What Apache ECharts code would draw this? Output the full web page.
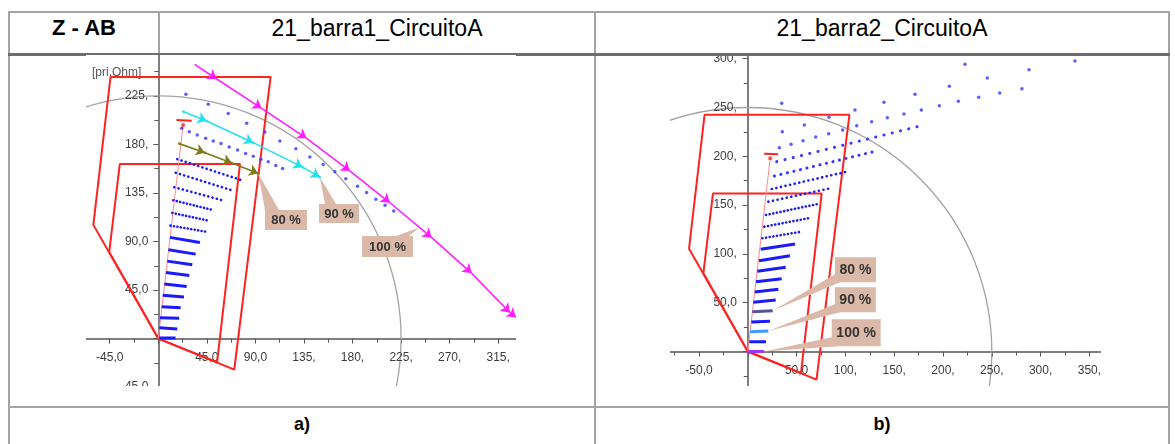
<!DOCTYPE html>
<html>
<head>
<meta charset="utf-8">
<script src="https://cdn.jsdelivr.net/npm/echarts@6/dist/echarts.min.js"></script>
<style>
  html, body { margin: 0; padding: 0; background: #fff; width: 1175px; height: 444px; overflow: hidden;
    font-family: "Liberation Sans", Arial, sans-serif; }
  .ln { position: absolute; background: #a3a3a3; }
  .txt { position: absolute; text-align: center; color: #000; white-space: nowrap; }
  .clip { position: absolute; overflow: hidden; background: #fff; }
  .chart { position: absolute; left: 0; top: 0; width: 1175px; height: 444px; }
</style>
</head>
<body>
<!-- table frame -->
<div class="ln" style="left:8px;top:11px;width:1162px;height:2px"></div>
<div class="ln" style="left:8px;top:11px;width:2px;height:433px"></div>
<div class="ln" style="left:158px;top:11px;width:2px;height:43px"></div>
<div class="ln" style="left:594px;top:11px;width:2px;height:433px"></div>
<div class="ln" style="left:1168px;top:11px;width:2px;height:433px"></div>
<div class="ln" style="left:8px;top:53px;width:1162px;height:3px;background:#6d6d6d"></div>
<div class="ln" style="left:8px;top:406px;width:1162px;height:2px"></div>

<div class="txt" style="left:10px;width:148px;top:15px;line-height:26px;font-size:22px;font-weight:bold">Z - AB</div>
<div class="txt" style="left:160px;width:434px;top:15px;line-height:26px;font-size:23px">21_barra1_CircuitoA</div>
<div class="txt" style="left:596px;width:572px;top:15px;line-height:26px;font-size:23px">21_barra2_CircuitoA</div>
<div class="txt" style="left:10px;width:584px;top:412px;line-height:24px;font-size:18px;font-weight:bold">a)</div>
<div class="txt" style="left:596px;width:572px;top:412px;line-height:24px;font-size:18px;font-weight:bold">b)</div>

<div class="clip" style="left:86px;top:55px;width:430px;height:331px">
  <div id="plotA" class="chart" style="left:-86px;top:-55px"></div>
</div>
<div class="clip" style="left:670px;top:56px;width:431px;height:330px">
  <div id="plotB" class="chart" style="left:-670px;top:-56px"></div>
</div>

<script>
// ---- relay characteristic (primary ohms, R-X plane) ----
const zone2 = [[0, 0], [-60.2, 105.4], [-44.3, 242.5], [104.1, 242.5], [70.4, -28.8], [0, 0]];
const zone1 = [[0, 0], [-45.5, 80.2], [-35.7, 161.8], [75.7, 161.8], [54.5, -21.9], [0, 0]];
const lineAngle = [[0, 0], [23, 198]];
const lineEndBar = [[16.8, 202.5], [31, 202]];
const lineEndDot = [[23, 198]];

// ---- panel a: 21_barra1_CircuitoA ----
const stepA = 45;
const xTicksA = [-45, 45, 90, 135, 180, 225, 270, 315];
const yTicksA = [-45, 45, 90, 135, 180, 225];
const reachA = 225;
const solidRowsA = [
  [[1, 0.5], [16, 0.5]],
  [[0.9, 10], [17.6, 8.8]],
  [[1.6, 19.3], [19.4, 18.8]],
  [[3.1, 29.6], [20.7, 28.7]],
  [[4.1, 40.2], [23.8, 38.6]],
  [[5.6, 50.7], [26.3, 48.2]],
  [[7.1, 61.2], [28.7, 58.4]],
  [[8.3, 71.8], [31.5, 68.4]],
  [[9.3, 82.3], [34.6, 78.3]],
  [[10.8, 93.8], [38.6, 89.1]]
];
const denseRowsA = [
  [[11.3, 104.7], [45.1, 98.9]],
  [[13, 116.5], [46.3, 109.3]],
  [[13.9, 128.2], [51.6, 118.9]]
];
const dotRowsA = [
  [[14.8, 140.3], [59.3, 128.2]],
  [[16.1, 153.7], [68, 137.5]],
  [[17.6, 166.3], [78.1, 146.5]]
];
const sparseDotsA = [
  [21.7, 194.9], [28.7, 191.8], [36.1, 188.7], [43.9, 185.6], [50.9, 183.1], [58.1, 180.7], [65.7, 177.5],
  [73.5, 174.7], [80.9, 171.6], [88, 169.1], [95.1, 166.3], [101.9, 163.9], [108.9, 160.5], [115.2, 157.7],
  [25.6, 226.5], [46.3, 217.2], [64.8, 208.6], [81.9, 199.5], [98.8, 191.4], [112.7, 183.1], [127.5, 176],
  [140.5, 168.2], [152.8, 161.4], [163.6, 154.6], [173.8, 148.1], [184.6, 141.2], [193, 135.3], [201.6, 129.1],
  [210.2, 123.5], [218.2, 118.3]
];
const locus80A = [[19.4, 180.7], [43.2, 172.3], [68.2, 162.8], [92.6, 153]];
const locus90A = [[23.1, 210.4], [44.8, 201.7], [88, 181.6], [133.7, 158.9], [149.7, 149.6]];
const locus100A = [[33.7, 254.2], [54.1, 240.6], [95.8, 213.4], [137.5, 185.6], [177.7, 155.3], [214.7, 125.9],
  [253.4, 93.5], [290.5, 60.5], [326, 24], [331.6, 19.7]];
const calloutsA = [
  { text: '80 %', at: locus80A[locus80A.length - 1] },
  { text: '90 %', at: locus90A[locus90A.length - 1] },
  { text: '100 %', at: [242, 103] }
];

// ---- panel b: 21_barra2_CircuitoA ----
const stepB = 50;
const xTicksB = [-50, 50, 100, 150, 200, 250, 300, 350];
const yTicksB = [-50, 50, 100, 150, 200, 250, 300];
const reachB = 250;
const row100B = [[0.5, 0], [16.6, 0]];
const row90B = [[2.3, 20.3], [21, 21]];
const row80B = [[4.6, 40.8], [25.5, 41.8]];
const solidRowsB = [
  [[1.5, 10], [18.6, 10]],
  [[3.6, 30.2], [22.7, 30.9]],
  [[5.6, 50.4], [28.6, 52.8]],
  [[7.1, 61], [31.3, 63.7]],
  [[8.4, 71.5], [34.7, 74.6]],
  [[9.7, 82.2], [38.8, 86.3]],
  [[11.5, 93], [43.2, 98.2]],
  [[13.2, 104.7], [48.4, 110.1]]
];
const denseRowsB = [
  [[14.9, 116], [54.5, 122.7]],
  [[16.9, 127.9], [62, 136.5]],
  [[18.6, 139.9], [71.6, 151.1]]
];
const dotRowsB = [
  [[21, 153.5], [84.2, 167.2]],
  [[24.5, 166.5], [101.3, 184.2]]
];
const wideRowB4 = [[27.2, 179.8], [128.6, 204.7]];
const wideRowB3 = [[29.6, 194.5], [175.1, 230.7]];
const sparseDotsB = [
  [32.3, 208.8], [44.3, 212.3], [56.6, 216], [69.6, 219.8], [82.9, 223.2], [97.2, 226.9], [111.6, 231.4],
  [126.9, 235.5], [142.9, 239.5], [160, 243.3], [177.8, 247.4], [196.2, 251.8], [215.7, 256.4], [236.6, 260.5],
  [258.1, 264.8], [280.9, 269.3],
  [35.3, 225.2], [57.9, 232.1], [83.2, 240], [109.8, 247.4], [139.5, 255.3], [171.3, 263.5], [206.5, 271.7],
  [245.4, 280.2], [288.1, 288.7], [335.2, 297.6],
  [34.7, 254.3], [222.5, 294.3]
];
const calloutsB = [
  { text: '80 %', at: row80B[1] },
  { text: '90 %', at: row90B[1] },
  { text: '100 %', at: row100B[1] }
];

// ---- drawing helpers ----
const FONT = '"Liberation Sans", Arial, sans-serif';
const BLUE = '#1a1aff';
const DOT_BLUE = '#3636ff';
const RED = '#ff2222';
const TAN = '#dbb9a8';

function tickText(v) {
  if (Math.abs(v) < 1e-9) return '';
  const s = Math.abs(v).toFixed(1).replace('.', ',');
  return (v < 0 ? '-' : '') + s.slice(0, 4);
}

function axis(min, max, step) {
  return {
    type: 'value', min: min, max: max, interval: step,
    axisLine: { show: true, onZero: true, lineStyle: { color: '#555', width: 1.5 } },
    axisTick: { show: true, length: 5, lineStyle: { color: '#555', width: 1 } },
    minorTick: { show: true, splitNumber: 2, length: 4, lineStyle: { color: '#555', width: 1 } },
    splitLine: { show: false }, minorSplitLine: { show: false },
    axisLabel: { show: false }
  };
}

// tick labels sit beside the axes where they cross at the origin
function tickLabels(values, isX, margin) {
  return {
    type: 'custom', coordinateSystem: 'cartesian2d',
    data: values.map(function (v) { return isX ? [v, 0] : [0, v]; }),
    encode: { x: 0, y: 1 }, silent: true, animation: false, clip: false, z: 1,
    renderItem: function (params, api) {
      const p = api.coord([api.value(0), api.value(1)]);
      const v = isX ? api.value(0) : api.value(1);
      return { type: 'text', style: {
        text: tickText(v), x: isX ? p[0] : p[0] - margin, y: isX ? p[1] + margin : p[1],
        align: isX ? 'center' : 'right', verticalAlign: isX ? 'top' : 'middle',
        fontSize: 12, fontFamily: FONT, fill: '#3c3c3c' } };
    }
  };
}

function path(pts, color, width, dash, z) {
  return {
    type: 'line', data: pts, symbol: 'none', showSymbol: false, silent: true, animation: false, z: z || 3,
    lineStyle: { color: color, width: width, type: dash || 'solid', cap: dash ? 'round' : 'butt' }
  };
}

function dots(pts, color, size, z) {
  return { type: 'scatter', data: pts, symbol: 'circle', symbolSize: size, silent: true, animation: false,
    itemStyle: { color: color }, z: z || 3 };
}

function arrowPath(pts, color) {
  const segs = [];
  for (let i = 1; i < pts.length; i++) segs.push({ coords: [pts[i - 1], pts[i]] });
  return {
    type: 'lines', coordinateSystem: 'cartesian2d', data: segs, symbol: ['none', 'arrow'], symbolSize: 9,
    silent: true, animation: false, z: 4,
    lineStyle: { color: color, width: 1.6, opacity: 1, curveness: 0 }
  };
}

function reachCircle(r) {
  return {
    type: 'custom', coordinateSystem: 'cartesian2d', data: [[0, 0, r]], encode: { x: 0, y: 1 },
    silent: true, animation: false, clip: false, z: 1,
    renderItem: function (params, api) {
      const c = api.coord([api.value(0), api.value(1)]);
      const rad = api.size([api.value(2), 0])[0];
      return { type: 'circle', shape: { cx: c[0], cy: c[1], r: rad },
        style: { fill: 'none', stroke: '#a3a3a3', lineWidth: 1.3 } };
    }
  };
}

function callouts(list, layout, fontSize) {
  return {
    type: 'custom', coordinateSystem: 'cartesian2d', data: list.map(function (c) { return c.at; }),
    encode: { x: 0, y: 1 }, silent: true, animation: false, clip: false, z: 8,
    renderItem: function (params, api) {
      const p = api.coord([api.value(0), api.value(1)]);
      const L = layout[params.dataIndex];
      const bx = p[0] + L.dx, by = p[1] + L.dy;
      return {
        type: 'group', children: [
          { type: 'polygon', shape: { points: [[p[0], p[1]], [bx + L.base[0][0], by + L.base[0][1]],
            [bx + L.base[1][0], by + L.base[1][1]]] }, style: { fill: TAN } },
          { type: 'rect', shape: { x: bx, y: by, width: L.w, height: L.h }, style: { fill: TAN } },
          { type: 'text', style: { text: list[params.dataIndex].text, x: bx + L.w / 2, y: by + L.h / 2 + 0.5,
            align: 'center', verticalAlign: 'middle', fontSize: fontSize, fontWeight: 'bold',
            fontFamily: FONT, fill: '#333' } }
        ]
      };
    }
  };
}

function characteristic() {
  return [
    path(zone2, RED, 2, null, 2),
    path(zone1, RED, 2, null, 2),
    path(lineAngle, '#ff8c8c', 1, null, 2),
    path(lineEndBar, RED, 2, null, 5),
    dots(lineEndDot, RED, 4, 5)
  ];
}

// ---- panel a ----
const kA = 1.079, oA = [158.3, 338.6];
const chartA = echarts.init(document.getElementById('plotA'), null, { renderer: 'canvas', width: 1175, height: 444 });
const seriesA = [reachCircle(reachA), tickLabels(xTicksA, true, 13), tickLabels(yTicksA, false, 10)]
  .concat(characteristic());
solidRowsA.forEach(function (r) { seriesA.push(path(r, BLUE, 3)); });
denseRowsA.forEach(function (r) { seriesA.push(path(r, BLUE, 2.6, [0.1, 3.4])); });
dotRowsA.forEach(function (r) { seriesA.push(path(r, BLUE, 2.6, [0.1, 4.3])); });
seriesA.push(dots(sparseDotsA, DOT_BLUE, 3.5));
seriesA.push(arrowPath(locus80A, '#7c7c1c'), dots(locus80A, '#7c7c1c', 3, 4));
seriesA.push(arrowPath(locus90A, '#25e0ee'), dots(locus90A, '#25e0ee', 3, 4));
seriesA.push(arrowPath(locus100A, '#ff1fff'));
seriesA.push(callouts(calloutsA, [
  { dx: 6.8, dy: 36.5, w: 42, h: 20, base: [[0, 0], [14, 0]] },
  { dx: -0.8, dy: 26.8, w: 40, h: 19, base: [[6, 0], [17, 0]] },
  { dx: -57.4, dy: 8.5, w: 51, h: 21, base: [[34, 0], [47, 0]] }
], 13));
chartA.setOption({
  animation: false,
  grid: { left: oA[0] - 2 * stepA * kA, top: oA[1] - 6 * stepA * kA, width: 10 * stepA * kA, height: 7 * stepA * kA,
    outerBoundsMode: 'none' },
  xAxis: axis(-2 * stepA, 8 * stepA, stepA),
  yAxis: axis(-stepA, 6 * stepA, stepA),
  graphic: [{ type: 'text', left: 92, top: 67, silent: true,
    style: { text: '[pri.Ohm]', fill: '#555', fontSize: 12, fontFamily: FONT } }],
  series: seriesA
});

// ---- panel b ----
const kB = 0.976, oB = [747.8, 351.5];
const chartB = echarts.init(document.getElementById('plotB'), null, { renderer: 'canvas', width: 1175, height: 444 });
const seriesB = [reachCircle(reachB), tickLabels(xTicksB, true, 13), tickLabels(yTicksB, false, 11)]
  .concat(characteristic());
solidRowsB.forEach(function (r) { seriesB.push(path(r, BLUE, 3)); });
seriesB.push(path(row100B, '#9b34ff', 3), path(row90B, '#3d9cff', 3), path(row80B, '#55559c', 3));
denseRowsB.forEach(function (r) { seriesB.push(path(r, BLUE, 2.6, [0.1, 3.6])); });
dotRowsB.forEach(function (r) { seriesB.push(path(r, BLUE, 2.6, [0.1, 4.6])); });
seriesB.push(path(wideRowB4, DOT_BLUE, 3, [0.1, 6.6]));
seriesB.push(path(wideRowB3, DOT_BLUE, 3, [0.1, 8.4]));
seriesB.push(dots(sparseDotsB, DOT_BLUE, 3.5));
seriesB.push(callouts(calloutsB, [
  { dx: 62.3, dy: -53.4, w: 41, h: 25, base: [[0, 17], [5, 25]] },
  { dx: 66.5, dy: -43.7, w: 41, h: 25, base: [[0, 17], [5, 25]] },
  { dx: 67.7, dy: -32.2, w: 49, h: 27, base: [[0, 18], [6, 27]] }
], 14));
chartB.setOption({
  animation: false,
  grid: { left: oB[0] - 2 * stepB * kB, top: oB[1] - 7 * stepB * kB, width: 10 * stepB * kB, height: 8 * stepB * kB,
    outerBoundsMode: 'none' },
  xAxis: axis(-2 * stepB, 8 * stepB, stepB),
  yAxis: axis(-stepB, 7 * stepB, stepB),
  series: seriesB
});
</script>
</body>
</html>
